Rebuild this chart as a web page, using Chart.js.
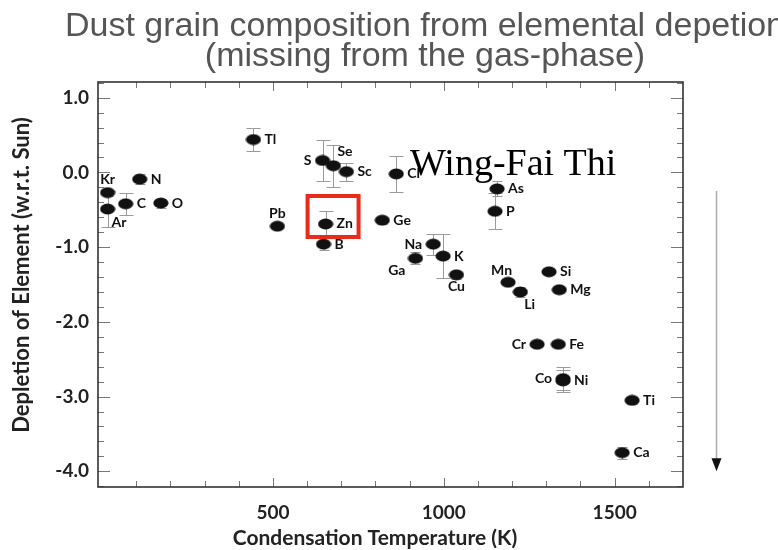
<!DOCTYPE html>
<html>
<head>
<meta charset="utf-8">
<title>Dust grain composition</title>
<script src="https://cdn.jsdelivr.net/npm/chart.js@4.4.1/dist/chart.umd.min.js"></script>
<style>
  html, body { margin: 0; padding: 0; background: #fff; overflow: hidden; }
</style>
</head>
<body>
<canvas id="depletionChart" width="850" height="550"></canvas>
<script>
// Element depletions vs. condensation temperature
const elements     = ['Kr', 'Ar', 'C', 'N', 'O', 'Tl', 'Pb', 'S', 'Se', 'Sc', 'Cl', 'Zn', 'B', 'Ge', 'Na', 'K', 'Ga', 'Cu', 'As', 'P', 'Mn', 'Li', 'Si', 'Mg', 'Cr', 'Fe', 'Co', 'Ni', 'Ti', 'Ca'];
const condTemp     = [16, 16, 69, 110, 172, 443, 513, 645, 677, 715, 861, 654, 648, 820, 969, 998, 917, 1037, 1156, 1150, 1188, 1224, 1308, 1338, 1273, 1335, 1349, 1349, 1551, 1522];
const depletion    = [-0.27, -0.49, -0.42, -0.09, -0.41, 0.44, -0.72, 0.16, 0.09, 0.01, -0.02, -0.69, -0.96, -0.64, -0.96, -1.12, -1.15, -1.37, -0.22, -0.52, -1.47, -1.60, -1.33, -1.57, -2.30, -2.30, -2.76, -2.79, -3.05, -3.75];
const depletionErr = [0.04, 0.24, 0.15, 0.07, 0.06, 0.15, 0, 0.27, 0.28, 0.12, 0.24, 0.17, 0.08, 0.05, 0.14, 0.29, 0.08, 0.05, 0.10, 0.24, 0.04, 0.07, 0.03, 0.04, 0.04, 0.04, 0.15, 0.15, 0.05, 0.08];
// which side of the marker each element name sits on
const labelSide    = ['n', 'se', 'e', 'e', 'e', 'e', 'n', 'w', 'ne', 'e', 'e', 'e', 'e', 'e', 'w', 'e', 'sw', 's', 'e', 'e', 'nw', 'se', 'e', 'e', 'w', 'e', 'w', 'e', 'e', 'e'];

const xTickLabels = [500, 1000, 1500];
const yTickLabels = [1, 0, -1, -2, -3, -4];

const titleLines = ['Dust grain composition from elemental depetion', '(missing from the gas-phase)'];
const xTitle = 'Condensation Temperature (K)';
const yTitle = 'Depletion of Element (w.r.t. Sun)';
const boxedElement = 'Zn';
const watermark = 'Wing-Fai Thi';

// flattened ellipse used as the marker
function makeMarker() {
    const c = document.createElement('canvas');
    c.width = 16;
    c.height = 12;
    const g = c.getContext('2d');
    g.fillStyle = '#111';
    g.beginPath();
    g.ellipse(8, 6, 7.6, 5.4, 0, 0, Math.PI * 2);
    g.fill();
    return c;
}

const labelFont = 'bold 14px Lato';
const tickFont = { family: 'Lato', size: 19, weight: 'bold' };

const plotDecor = {
    id: 'plotDecor',
    beforeDatasetsDraw(chart) {
        const { ctx, scales: { x, y } } = chart;
        ctx.save();
        ctx.strokeStyle = '#9a9a9a';
        ctx.lineWidth = 1;
        elements.forEach((el, i) => {
            const e = depletionErr[i];
            if (!e) return;
            const px = Math.round(x.getPixelForValue(condTemp[i])) + 0.5;
            const top = Math.round(y.getPixelForValue(depletion[i] + e)) + 0.5;
            const bot = Math.round(y.getPixelForValue(depletion[i] - e)) + 0.5;
            const cap = e > 0.1 ? 7 : 5;
            ctx.beginPath();
            ctx.moveTo(px, top); ctx.lineTo(px, bot);
            ctx.moveTo(px - cap, top); ctx.lineTo(px + cap, top);
            ctx.moveTo(px - cap, bot); ctx.lineTo(px + cap, bot);
            ctx.stroke();
        });
        ctx.restore();
    },
    afterDatasetsDraw(chart) {
        const { ctx, chartArea: a, scales: { x, y } } = chart;
        ctx.save();

        // element names
        ctx.font = labelFont;
        ctx.fillStyle = '#111';
        ctx.textBaseline = 'middle';
        elements.forEach((el, i) => {
            const px = x.getPixelForValue(condTemp[i]);
            const py = y.getPixelForValue(depletion[i]);
            let tx = px, ty = py, align = 'left';
            switch (labelSide[i]) {
                case 'e':  tx = px + 11; break;
                case 'w':  tx = px - 11; align = 'right'; break;
                case 'n':  ty = py - 13; align = 'center'; break;
                case 's':  ty = py + 12; align = 'center'; break;
                case 'ne': tx = px + 4; ty = py - 14; break;
                case 'se': tx = px + 4; ty = py + 13; break;
                case 'nw': tx = px + 4; ty = py - 12; align = 'right'; break;
                case 'sw': tx = px - 10; ty = py + 12; align = 'right'; break;
            }
            ctx.textAlign = align;
            ctx.fillText(el, tx, ty);
        });

        // inward ticks on all four sides
        ctx.strokeStyle = '#777';
        ctx.lineWidth = 1;
        ctx.beginPath();
        y.ticks.forEach(t => {
            const py = Math.round(y.getPixelForValue(t.value)) + 0.5;
            const len = Math.abs(t.value - Math.round(t.value)) < 1e-6 ? 12 : 6;
            ctx.moveTo(a.left, py); ctx.lineTo(a.left + len, py);
            ctx.moveTo(a.right, py); ctx.lineTo(a.right - len, py);
        });
        x.ticks.forEach(t => {
            if (t.value <= 0 || t.value >= x.max) return;
            const px = Math.round(x.getPixelForValue(t.value)) + 0.5;
            const len = t.value % 500 === 0 ? 9 : 6;
            ctx.moveTo(px, a.bottom); ctx.lineTo(px, a.bottom - len);
            ctx.moveTo(px, a.top); ctx.lineTo(px, a.top + len);
        });
        ctx.stroke();

        // frame
        ctx.strokeStyle = '#333';
        ctx.lineWidth = 1.6;
        ctx.strokeRect(a.left, a.top, a.right - a.left, a.bottom - a.top);

        // axis titles
        ctx.fillStyle = '#222';
        ctx.font = 'bold 21px Lato';
        ctx.textAlign = 'center';
        ctx.textBaseline = 'alphabetic';
        ctx.fillText(xTitle, a.left + 277, a.bottom + 58);
        ctx.save();
        ctx.translate(a.left - 69, a.top + 193);
        ctx.rotate(-Math.PI / 2);
        ctx.font = 'bold 22px Lato';
        ctx.fillText(yTitle, 0, 0);
        ctx.restore();

        // red box around one element
        const bi = elements.indexOf(boxedElement);
        const bx = x.getPixelForValue(condTemp[bi]);
        const by = y.getPixelForValue(depletion[bi]);
        ctx.strokeStyle = '#ea2a1a';
        ctx.lineWidth = 4;
        ctx.strokeRect(bx - 18, by - 28, 51, 41);

        // downward arrow to the right of the plot
        const ax = a.right + 33.5;
        const ay1 = y.getPixelForValue(-0.25);
        const ay2 = y.getPixelForValue(-4.0);
        ctx.strokeStyle = '#aaa';
        ctx.lineWidth = 1.5;
        ctx.beginPath();
        ctx.moveTo(ax, ay1); ctx.lineTo(ax, ay2 - 10);
        ctx.stroke();
        ctx.fillStyle = '#111';
        ctx.beginPath();
        ctx.moveTo(ax - 5, ay2 - 13);
        ctx.lineTo(ax + 5, ay2 - 13);
        ctx.lineTo(ax, ay2);
        ctx.closePath();
        ctx.fill();

        // name stamped over the plot
        ctx.font = '38px "Liberation Serif"';
        ctx.fillStyle = '#000';
        ctx.textAlign = 'left';
        ctx.fillText(watermark, a.left + 312, a.top + 93);

        ctx.restore();
    }
};

const ctx = document.getElementById('depletionChart').getContext('2d');
const chart = new Chart(ctx, {
    type: 'scatter',
    data: {
        datasets: [{
            data: elements.map((el, i) => ({ x: condTemp[i], y: depletion[i] })),
            pointStyle: makeMarker(),
            pointRadius: 6,
            pointHoverRadius: 6
        }]
    },
    options: {
        responsive: false,
        animation: false,
        events: [],
        layout: { padding: 0 },
        plugins: {
            legend: { display: false },
            tooltip: { enabled: false },
            title: {
                display: true,
                text: titleLines,
                color: '#555',
                font: { family: 'Liberation Sans', size: 34, weight: 'normal', lineHeight: 30 / 34 },
                padding: { top: 12, bottom: 10 }
            }
        },
        scales: {
            x: {
                type: 'linear',
                min: -12,
                max: 1700,
                grid: { display: false, drawTicks: false },
                border: { display: false },
                ticks: {
                    stepSize: 100,
                    includeBounds: false,
                    autoSkip: false,
                    maxRotation: 0,
                    padding: 14,
                    color: '#222',
                    font: tickFont,
                    callback: v => xTickLabels.includes(Math.round(v)) ? String(Math.round(v)) : ''
                },
                afterFit: s => { s.height = 63; }
            },
            y: {
                min: -4.21,
                max: 1.21,
                grid: { display: false, drawTicks: false },
                border: { display: false },
                ticks: {
                    stepSize: 0.2,
                    includeBounds: false,
                    autoSkip: false,
                    padding: 9,
                    color: '#222',
                    font: tickFont,
                    callback: v => {
                        const r = Math.round(v);
                        return Math.abs(v - r) < 1e-6 && yTickLabels.includes(r) ? (r === 0 ? 0 : r).toFixed(1) : '';
                    }
                },
                afterFit: s => { s.width = 98; }
            },
            // empty strip on the right that holds the arrow
            side: {
                position: 'right',
                grid: { display: false, drawTicks: false },
                border: { display: false },
                ticks: { display: false },
                afterFit: s => { s.width = 167; }
            }
        }
    },
    plugins: [plotDecor]
});
</script>
</body>
</html>
